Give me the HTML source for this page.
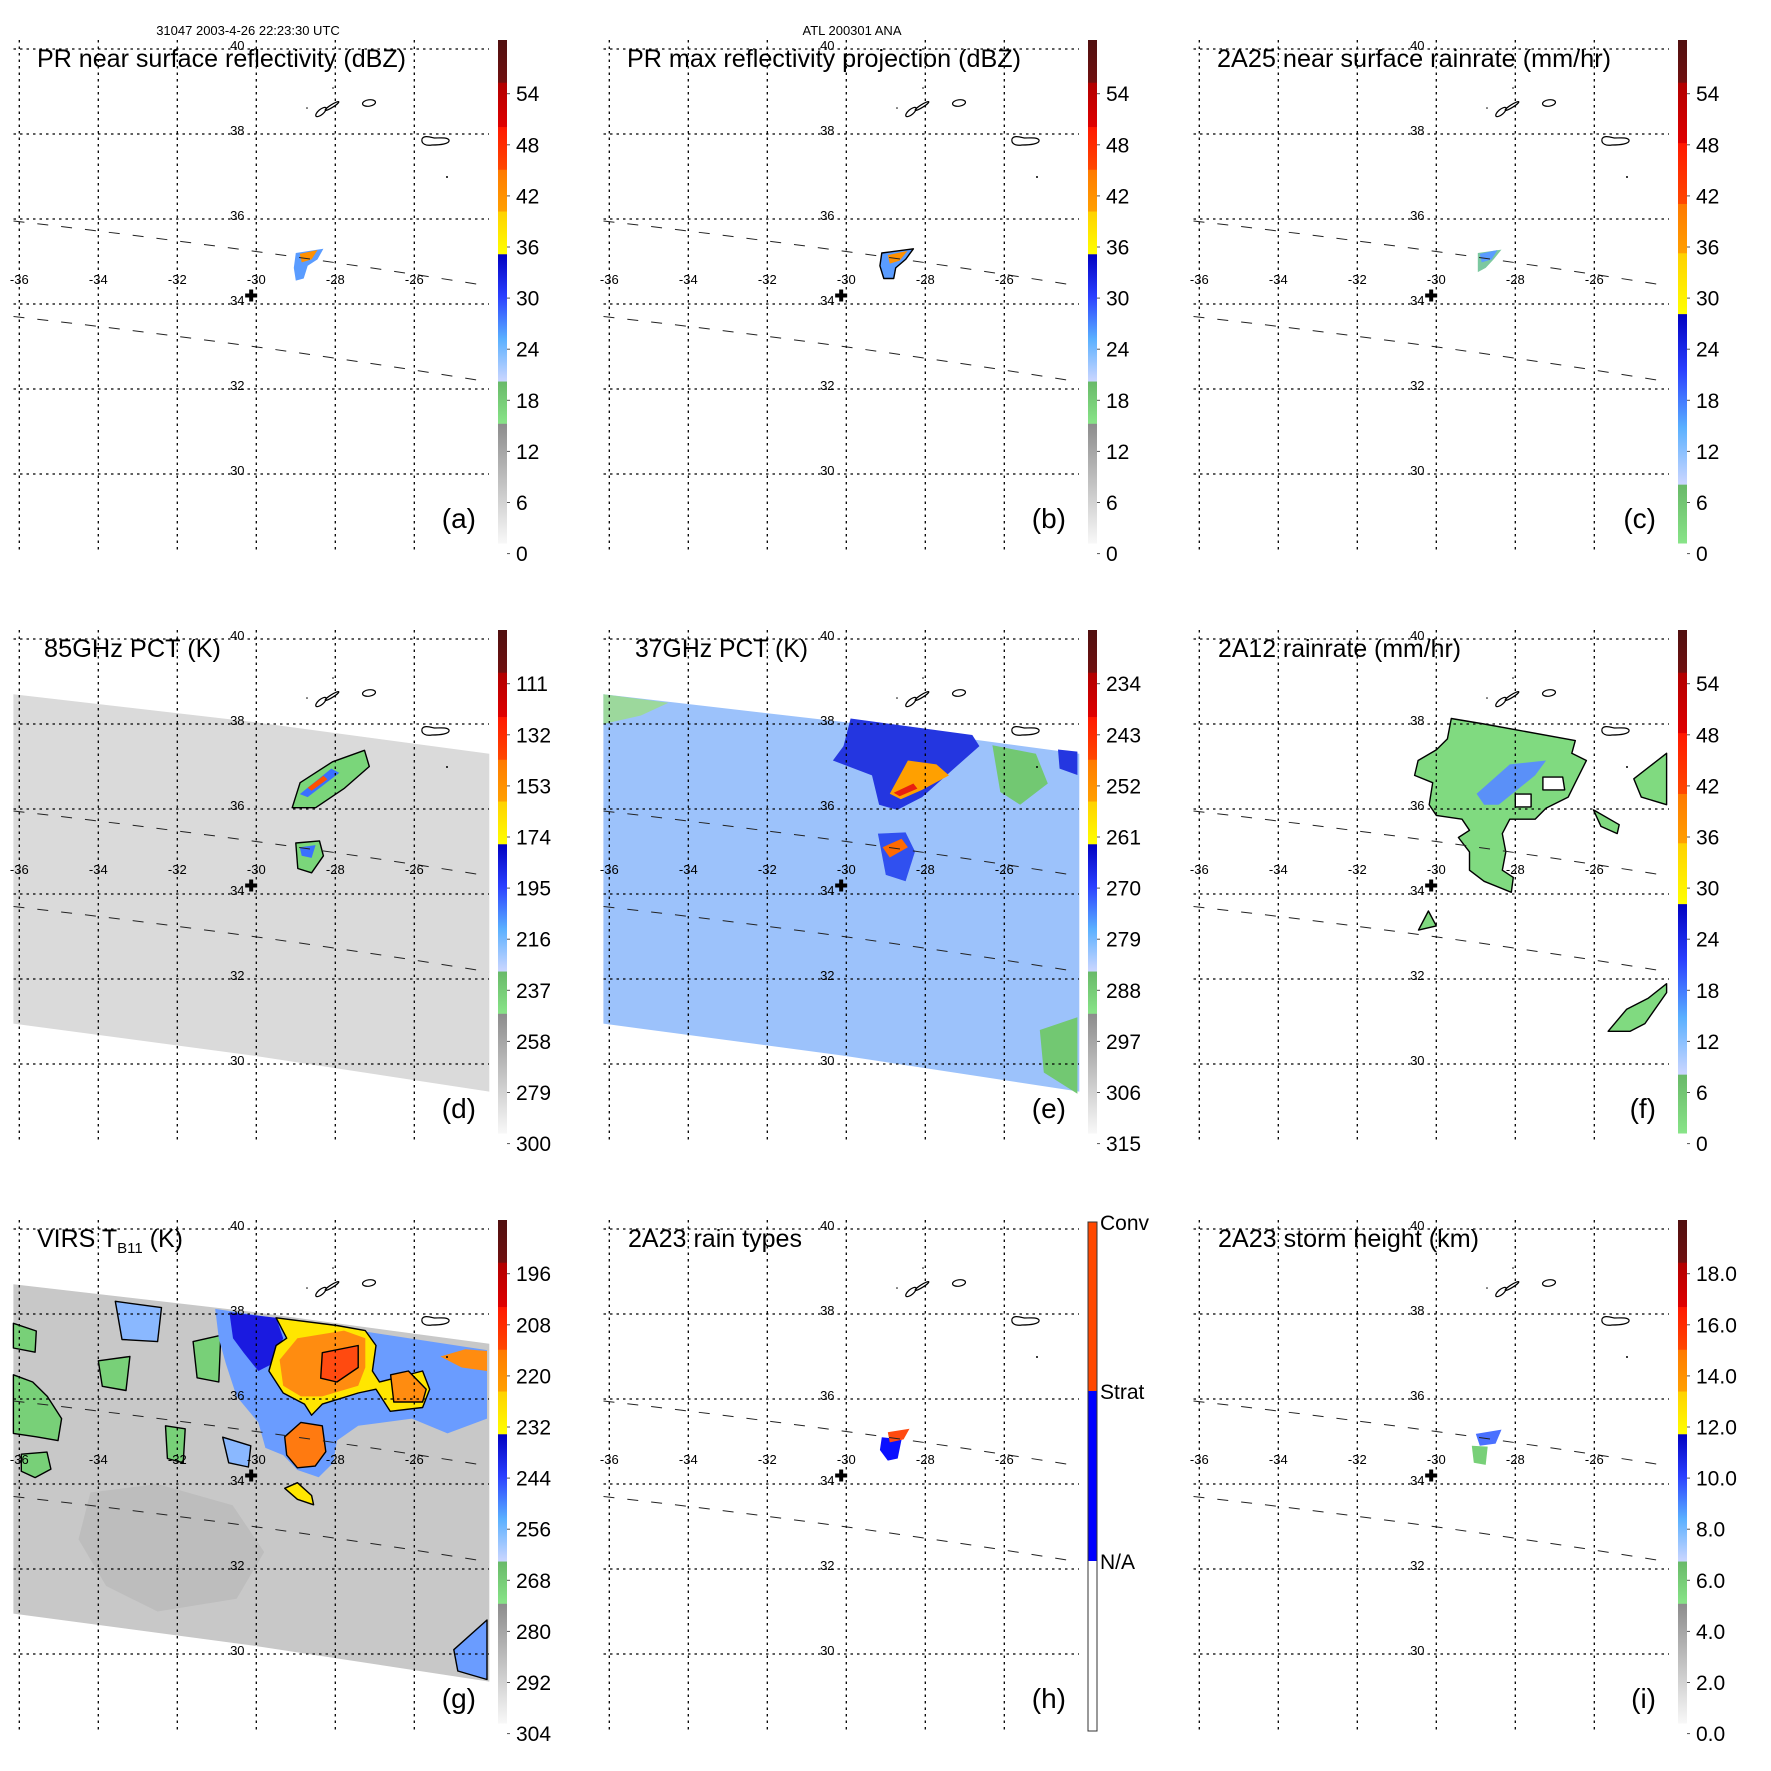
<!DOCTYPE html>
<html><head><meta charset="utf-8"><style>
html,body{margin:0;padding:0;background:#fff;}
svg{display:block;font-family:"Liberation Sans",Arial,sans-serif;}
</style></head><body>
<svg id="fig" xmlns="http://www.w3.org/2000/svg" width="1771" height="1771" viewBox="0 0 1771 1771">
<defs id="defs"></defs>
<text x="248" y="35" font-size="13" text-anchor="middle">31047 2003-4-26 22:23:30 UTC</text>
<text x="852" y="35" font-size="13" text-anchor="middle">ATL 200301 ANA</text>
</svg>
<script>
const lonTicks=[-36,-34,-32,-30,-28,-26];
const latTicks=[40,38,36,34,32,30];
const swathLon=[-36.15,-30.1,-24.1];
const swathTop=[38.7,38.05,37.3];
const swathBot=[30.95,30.2,29.35];
const dbzLabels=['0','6','12','18','24','30','36','42','48','54'];
const rainLabels=['0','6','12','18','24','30','36','42','48','54'];
const pct85Labels=['300','279','258','237','216','195','174','153','132','111'];
const pct37Labels=['315','306','297','288','279','270','261','252','243','234'];
const virsLabels=['304','292','280','268','256','244','232','220','208','196'];
const heightLabels=['0.0','2.0','4.0','6.0','8.0','10.0','12.0','14.0','16.0','18.0'];
const rainTypeLabels=['N/A','Strat','Conv'];
const crossLon=-30.13, crossLat=34.2;

const aStorm=[[-29.0,35.2],[-28.3,35.3],[-28.45,35.05],[-28.7,34.9],[-28.8,34.6],[-29.0,34.55],[-29.05,34.85]];
const aCore=[[-28.9,35.18],[-28.45,35.27],[-28.6,35.05],[-28.85,34.98]];
const bStorm=[[-29.1,35.2],[-28.3,35.3],[-28.5,35.05],[-28.75,34.85],[-28.8,34.6],[-29.05,34.6],[-29.15,34.9]];
const bCore=[[-28.95,35.15],[-28.45,35.25],[-28.65,35.02],[-28.9,34.95]];
const cStorm=[[-28.95,35.2],[-28.35,35.28],[-28.55,35.05],[-28.75,34.85],[-28.95,34.75]];
const dBlob1=[[-29.09,36.03],[-28.89,36.62],[-28.07,37.11],[-27.26,37.38],[-27.14,37.0],[-27.78,36.48],[-28.5,36.03]];
const dCore1=[[-28.9,36.35],[-28.1,36.95],[-27.9,36.85],[-28.7,36.28]];
const dRed1=[[-28.7,36.5],[-28.3,36.78],[-28.2,36.7],[-28.6,36.43]];
const dBlob2=[[-29.0,35.2],[-28.4,35.25],[-28.3,34.9],[-28.6,34.5],[-28.95,34.6]];
const dCore2=[[-28.9,35.1],[-28.5,35.15],[-28.6,34.85],[-28.85,34.9]];
const eDark=[[-29.89,38.13],[-26.81,37.74],[-26.63,37.48],[-27.36,36.88],[-28.08,36.28],[-28.71,35.98],[-29.17,36.1],[-29.35,36.79],[-30.34,37.14],[-30.07,37.48]];
const eDark2=[[-24.64,37.4],[-24.15,37.35],[-24.15,36.8],[-24.6,36.95]];
const eCore=[[-28.9,36.36],[-28.44,37.14],[-27.72,37.05],[-27.4,36.79],[-28.08,36.45],[-28.62,36.23]];
const eRed=[[-28.8,36.38],[-28.3,36.6],[-28.2,36.48],[-28.65,36.3]];
const eBlue2=[[-29.2,35.42],[-28.5,35.45],[-28.26,35.0],[-28.5,34.3],[-29.0,34.45]];
const eCore2=[[-29.08,35.1],[-28.6,35.3],[-28.44,35.1],[-28.9,34.86]];
const eGreen1=[[-26.3,37.5],[-25.2,37.3],[-24.9,36.6],[-25.6,36.1],[-26.1,36.4]];
const eGreen2=[[-25.1,30.8],[-24.15,31.1],[-24.15,29.3],[-25.0,29.8]];
const eGreen3=[[-36.15,38.7],[-34.5,38.5],[-35.2,38.2],[-36.15,38.0]];
const fMain=[[-29.62,38.13],[-28.79,38.0],[-26.48,37.61],[-26.57,37.31],[-26.2,37.14],[-26.48,36.62],[-26.66,36.28],[-27.22,36.02],[-27.5,35.76],[-28.14,35.76],[-28.33,35.42],[-28.24,34.99],[-28.33,34.56],[-28.05,34.39],[-28.1,34.04],[-28.79,34.3],[-29.16,34.56],[-29.16,34.99],[-29.44,35.33],[-29.16,35.5],[-29.35,35.76],[-30.0,35.85],[-30.18,36.1],[-30.09,36.62],[-30.55,36.79],[-30.46,37.14],[-30.0,37.39],[-29.72,37.65]];
const fBlue=[[-28.98,36.36],[-28.14,37.05],[-27.22,37.14],[-27.5,36.79],[-28.42,36.1],[-28.79,36.1]];
const fHole1=[[-28.0,36.35],[-27.6,36.35],[-27.6,36.05],[-28.0,36.05]];
const fHole2=[[-27.3,36.75],[-26.8,36.75],[-26.75,36.45],[-27.3,36.45]];
const fRight=[[-25.0,36.71],[-24.17,37.31],[-24.17,36.1],[-24.81,36.28]];
const fBottom=[[-25.65,30.77],[-25.18,31.29],[-24.63,31.55],[-24.17,31.89],[-24.17,31.68],[-24.72,30.95],[-25.09,30.77]];
const fStreak=[[-26.02,35.98],[-25.37,35.63],[-25.42,35.42],[-25.83,35.59]];
const fTri=[[-30.2,33.6],[-30.0,33.25],[-30.45,33.15]];
const gCloud=[[-31.04,38.12],[-24.16,37.15],[-24.16,35.54],[-25.16,35.19],[-26.06,35.54],[-27.42,35.37],[-27.96,35.02],[-28.05,34.5],[-28.42,34.16],[-28.96,34.33],[-29.32,34.68],[-29.77,34.85],[-29.95,35.45],[-30.5,36.06],[-30.77,36.83],[-30.95,37.43]];
const gDark=[[-30.68,38.04],[-29.5,37.91],[-29.32,37.43],[-29.59,36.83],[-29.95,36.66],[-30.32,37.09],[-30.59,37.43]];
const gYellow=[[-29.5,37.91],[-27.96,37.73],[-27.24,37.61],[-26.97,37.26],[-27.06,36.66],[-26.88,36.4],[-25.79,36.66],[-25.61,36.23],[-25.79,35.8],[-26.61,35.71],[-26.97,36.23],[-27.42,36.14],[-28.33,35.88],[-28.6,35.62],[-28.78,35.88],[-29.32,36.14],[-29.68,36.66],[-29.5,37.26],[-29.23,37.43]];
const gOrange=[[-29.41,36.92],[-28.96,37.43],[-27.78,37.61],[-27.24,37.43],[-27.24,36.74],[-27.42,36.31],[-28.33,36.06],[-28.87,36.06],[-29.32,36.31]];
const gRed=[[-28.33,37.09],[-27.42,37.26],[-27.42,36.74],[-27.96,36.4],[-28.37,36.49]];
const gOrangeR=[[-26.6,36.57],[-26.15,36.66],[-25.7,36.23],[-25.79,35.93],[-26.52,35.93]];
const gOrangeE=[[-25.34,37.0],[-24.71,37.17],[-24.16,37.13],[-24.16,36.66],[-24.8,36.74]];
const gOrange2=[[-29.28,35.11],[-28.87,35.45],[-28.33,35.37],[-28.24,34.76],[-28.51,34.42],[-28.96,34.38],[-29.23,34.68]];
const gYellow3=[[-29.28,33.9],[-28.96,34.03],[-28.6,33.73],[-28.55,33.51],[-28.96,33.64]];
const gGreenL=[[-36.15,36.57],[-35.66,36.4],[-35.29,36.06],[-34.93,35.54],[-35.02,35.02],[-35.57,35.11],[-36.15,35.19]];
const gGreenL2=[[-35.95,34.7],[-35.3,34.75],[-35.2,34.35],[-35.6,34.15],[-35.95,34.3]];
const gGreenT=[[-36.15,37.78],[-35.57,37.6],[-35.6,37.1],[-36.15,37.2]];
const gBlueT=[[-33.57,38.3],[-32.4,38.15],[-32.5,37.35],[-33.4,37.4]];
const gGreen1=[[-31.6,37.35],[-30.9,37.5],[-30.95,36.4],[-31.5,36.5]];
const gGreen2=[[-34.0,36.9],[-33.2,37.0],[-33.3,36.2],[-33.9,36.3]];
const gGreen3=[[-32.3,35.37],[-31.8,35.3],[-31.85,34.5],[-32.25,34.6]];
const gBlue3=[[-30.85,35.1],[-30.14,34.9],[-30.2,34.4],[-30.7,34.5]];
const gBlueBR=[[-25.0,30.1],[-24.16,30.8],[-24.16,29.4],[-24.9,29.6]];
const gWarm=[[-34.2,33.8],[-32.5,34.0],[-30.6,33.5],[-29.8,32.4],[-30.5,31.3],[-32.5,31.0],[-33.8,31.6],[-34.5,32.7]];
const hConv=[[-28.95,35.22],[-28.4,35.3],[-28.55,35.05],[-28.9,34.98]];
const hStrat=[[-29.1,35.1],[-28.6,35.05],[-28.7,34.6],[-28.95,34.55],[-29.15,34.8]];
const iBlue=[[-29.0,35.18],[-28.35,35.28],[-28.5,34.95],[-28.9,34.9]];
const iGreen=[[-29.1,34.9],[-28.7,34.88],[-28.75,34.45],[-29.05,34.5]];

const NS='http://www.w3.org/2000/svg';
const svg=document.getElementById('fig');
const defs=document.getElementById('defs');
function X(lon){return 19.3+(lon+36)*39.5;}
function Y(lat){return 49+(40-lat)*42.5;}
function el(tag,attrs,parent){const e=document.createElementNS(NS,tag);for(const k in attrs)e.setAttribute(k,attrs[k]);parent.appendChild(e);return e;}
function pts(arr){return arr.map(p=>X(p[0]).toFixed(1)+','+Y(p[1]).toFixed(1)).join(' ');}
function poly(g,arr,fill,name,stroke){const p=el('polygon',{points:pts(arr),fill:fill,stroke:stroke||'none','stroke-width':1.4,'stroke-linejoin':'round'},g);


return p;}
function swath(g,fill,name){const a=[];for(let i=0;i<swathLon.length;i++)a.push([swathLon[i],swathTop[i]]);for(let i=swathLon.length-1;i>=0;i--)a.push([swathLon[i],swathBot[i]]);return poly(g,a,fill,name);}

const grayPal=[[0,0.238,['#f8f8f8','#8c8c8c']],[0.238,0.322,['#88e488','#68b868']],[0.322,0.575,['#ccd6ff','#5ab0ff','#2a40ff','#0000c0']],[0.575,0.66,['#ffff00','#ffd000']],[0.66,0.743,['#ffa000','#ff7800']],[0.743,0.828,['#ff4800','#ff1800']],[0.828,0.916,['#e00000','#b00000']],[0.916,1,['#701010','#501010']]];
const greenPal=[[0,0.117,['#88e488','#68b868']],[0.117,0.456,['#ccd6ff','#5ab0ff','#2a40ff','#0000c0']],[0.456,0.577,['#ffff00','#ffd000']],[0.577,0.675,['#ffa000','#ff7800']],[0.675,0.796,['#ff4800','#ff1800']],[0.796,0.916,['#e00000','#b00000']],[0.916,1,['#701010','#501010']]];
let gid=0;
function colorbar(g,pal,labels){
 const top=40,bot=543,x=498,w=9,h=bot-top;
 pal.forEach(s=>{const id='gr'+(gid++);const lg=el('linearGradient',{id:id,x1:0,y1:1,x2:0,y2:0},defs);
  s[2].forEach((c,i)=>el('stop',{offset:i/(s[2].length-1),'stop-color':c},lg));
  const y0=bot-s[1]*h,y1=bot-s[0]*h;
  const r=el('rect',{x:x,y:y0,width:w,height:y1-y0+0.5,fill:'url(#'+id+')'},g);
  
  });
 labels.forEach((t,i)=>{const cy=553.6-i*51.1;
  el('line',{x1:507,y1:cy,x2:510,y2:cy,stroke:'#555','stroke-width':1},g);
  const tx=el('text',{x:516,y:cy+7.5,'font-size':21},g);tx.textContent=t;
  
  });
}
function typebar(g){
 const x=498,w=9;
 const segs=[[42,211,'#ff4800'],[211,381,'#0000ff'],[381,551,'#ffffff']];
 segs.forEach(s=>{const r=el('rect',{x:x,y:s[0],width:w,height:s[1]-s[0],fill:s[2]},g);
  
  });
 el('rect',{x:x,y:42,width:w,height:509,fill:'none',stroke:'#333','stroke-width':1},g);
 [381,211,42].forEach((y,i)=>{const tx=el('text',{x:510,y:y+8,'font-size':21},g);tx.textContent=rainTypeLabels[i];
  
  });
}
function islands(g){
 const s={fill:'none',stroke:'#000','stroke-width':1.2};
 el('ellipse',Object.assign({cx:321,cy:112,rx:6.5,ry:2.6,transform:'rotate(-40 321 112)'},s),g);
 el('ellipse',Object.assign({cx:332,cy:106,rx:8,ry:1.4,transform:'rotate(-32 332 106)'},s),g);
 el('ellipse',Object.assign({cx:369,cy:103,rx:6.5,ry:3.2,transform:'rotate(-8 369 103)'},s),g);
 el('path',Object.assign({d:'M422,139 C424,135 430,137 434,138 C440,138 447,137 449,140 C450,144 440,145 432,145 C426,146 421,144 422,139 Z'},s),g);
 el('circle',{cx:447,cy:177,r:1,fill:'#000'},g);
 el('circle',{cx:333,cy:88,r:0.8,fill:'#000'},g);
 el('circle',{cx:307,cy:108,r:0.8,fill:'#000'},g);
}
function frame(g){
 const gr=el('g',{stroke:'#000','stroke-width':1.3,'stroke-dasharray':'2.5 4',fill:'none'},g);
 
 
 lonTicks.forEach(l=>el('line',{x1:X(l),y1:40,x2:X(l),y2:552},gr));
 latTicks.forEach(l=>el('line',{x1:13.5,y1:Y(l),x2:489,y2:Y(l)},gr));
 const ds=el('g',{stroke:'#222','stroke-width':1,'stroke-dasharray':'11 13',fill:'none'},g);
 
 
 el('path',{d:'M13.5,221 Q250,248 489,286'},ds);
 el('path',{d:'M13.5,316.5 Q250,343 489,382'},ds);
 islands(g);
 lonTicks.forEach(l=>{const t=el('text',{x:X(l),y:Y(34.5)+1,'font-size':13,'text-anchor':'middle'},g);t.textContent=String(l);
  
  });
 latTicks.forEach(l=>{const t=el('text',{x:X(-30)-19,y:Y(l)+1,'font-size':13,'text-anchor':'middle'},g);t.textContent=String(l);
  
  });
 const cx=X(crossLon),cy=Y(crossLat);
 const c=el('path',{d:`M${cx-6},${cy} H${cx+6} M${cx},${cy-6} V${cy+6}`,stroke:'#000','stroke-width':4},g);
 
 
}
const panels=[
 {id:'a',c:0,r:0,title:'PR near surface reflectivity (dBZ)',tl:369,tx:37,pal:grayPal,labels:dbzLabels},
 {id:'b',c:1,r:0,title:'PR max reflectivity projection (dBZ)',tl:394,tx:37,pal:grayPal,labels:dbzLabels},
 {id:'c',c:2,r:0,title:'2A25 near surface rainrate (mm/hr)',tl:394,tx:37,pal:greenPal,labels:rainLabels},
 {id:'d',c:0,r:1,title:'85GHz PCT (K)',tl:177,tx:44,pal:grayPal,labels:pct85Labels},
 {id:'e',c:1,r:1,title:'37GHz PCT (K)',tl:173,tx:45,pal:grayPal,labels:pct37Labels},
 {id:'f',c:2,r:1,title:'2A12 rainrate (mm/hr)',tl:243,tx:38,pal:greenPal,labels:rainLabels},
 {id:'g',c:0,r:2,title:null,tl:0,tx:37,pal:grayPal,labels:virsLabels},
 {id:'h',c:1,r:2,title:'2A23 rain types',tl:174,tx:38,pal:null,labels:null},
 {id:'i',c:2,r:2,title:'2A23 storm height (km)',tl:261,tx:38,pal:grayPal,labels:heightLabels}];
function data(p,g){
 const K='#000';
 switch(p.id){
 case 'a': poly(g,aStorm,'#5a9cff','reflectivity-echo');poly(g,aCore,'#ff9000','reflectivity-core');break;
 case 'b': poly(g,bStorm,'#5a9cff','max-reflectivity-echo',K);poly(g,bCore,'#ff9000','max-reflectivity-core');break;
 case 'c': poly(g,cStorm,'#7cc8a0','rainrate-echo');poly(g,aCore,'#5a9cff','rainrate-core');break;
 case 'd': swath(g,'#dadada','tmi-swath');poly(g,dBlob1,'#7ad67a','pct85-cell-north',K);poly(g,dCore1,'#3a70ff','pct85-core-north');poly(g,dRed1,'#ff5000','pct85-min-north');
  poly(g,dBlob2,'#7ad67a','pct85-cell-south',K);poly(g,dCore2,'#3a70ff','pct85-core-south');break;
 case 'e': swath(g,'#9cc2fb','tmi-swath');poly(g,eGreen1,'#72c872','pct37-warm-east');poly(g,eGreen2,'#72c872','pct37-warm-southeast');poly(g,eGreen3,'#9cd89c','pct37-warm-northwest');
  poly(g,eDark,'#2436e0','pct37-cold-region');poly(g,eDark2,'#2436e0','pct37-cold-east');poly(g,eCore,'#ffa000','pct37-core');poly(g,eRed,'#e82010','pct37-min');
  poly(g,eBlue2,'#3050f0','pct37-cell-south');poly(g,eCore2,'#ff6a00','pct37-core-south');break;
 case 'f': poly(g,fMain,'#80da80','rain-area',K);poly(g,fBlue,'#5a90f8','rain-heavy');poly(g,fHole1,'#fff','rain-gap',K);poly(g,fHole2,'#fff','rain-gap',K);
  poly(g,fRight,'#80da80','rain-east',K);poly(g,fBottom,'#80da80','rain-southeast',K);poly(g,fStreak,'#80da80','rain-streak',K);poly(g,fTri,'#80da80','rain-south',K);break;
 case 'g': swath(g,'#c8c8c8','virs-swath');
  poly(g,gWarm,'#bdbdbd','virs-warm-region');
  poly(g,gGreenL,'#78d078','cloud-west',K);poly(g,gGreenL2,'#78d078','cloud-west-2',K);poly(g,gGreenT,'#78d078','cloud-northwest',K);
  poly(g,gBlueT,'#8ab8ff','cloud-north',K);poly(g,gGreen1,'#78d078','cloud-1',K);poly(g,gGreen2,'#78d078','cloud-2',K);poly(g,gGreen3,'#78d078','cloud-3',K);poly(g,gBlue3,'#8ab8ff','cloud-4',K);
  poly(g,gCloud,'#6a9cff','anvil-region');poly(g,gDark,'#1a1ae0','anvil-cold');poly(g,gYellow,'#ffe600','anvil-yellow',K);poly(g,gOrange,'#ff8c10','anvil-orange');poly(g,gRed,'#ff4a10','anvil-coldest',K);
  poly(g,gOrangeR,'#ff8c10','anvil-east',K);poly(g,gOrangeE,'#ff8c10','anvil-edge');poly(g,gOrange2,'#ff7a10','cell-south',K);poly(g,gYellow3,'#ffe600','cell-small',K);
  poly(g,gBlueBR,'#6a9cff','cloud-southeast',K);break;
 case 'h': poly(g,hStrat,'#0a10ff','stratiform-rain');poly(g,hConv,'#ff4a10','convective-rain');break;
 case 'i': poly(g,iGreen,'#78d078','storm-height-low');poly(g,iBlue,'#4a70ff','storm-height-high');break;
 }
}
panels.forEach(p=>{
 const g=el('g',{transform:`translate(${p.c*590},${p.r*590})`},svg);
 
 
 data(p,g);
 frame(g);
 if(p.pal)colorbar(g,p.pal,p.labels);else typebar(g);
 let t;
 if(p.title){t=el('text',{x:p.tx,y:67,'font-size':25,textLength:p.tl,lengthAdjust:'spacingAndGlyphs'},g);t.textContent=p.title;}
 else{t=el('text',{x:37,y:67,'font-size':25},g);t.innerHTML='VIRS T<tspan font-size="15" dy="6">B11</tspan><tspan dy="-6"> (K)</tspan>';}
 
 
 const L=el('text',{x:476,y:528,'font-size':28,'text-anchor':'end'},g);L.textContent='('+p.id+')';
 
 
});
</script>
</body></html>
